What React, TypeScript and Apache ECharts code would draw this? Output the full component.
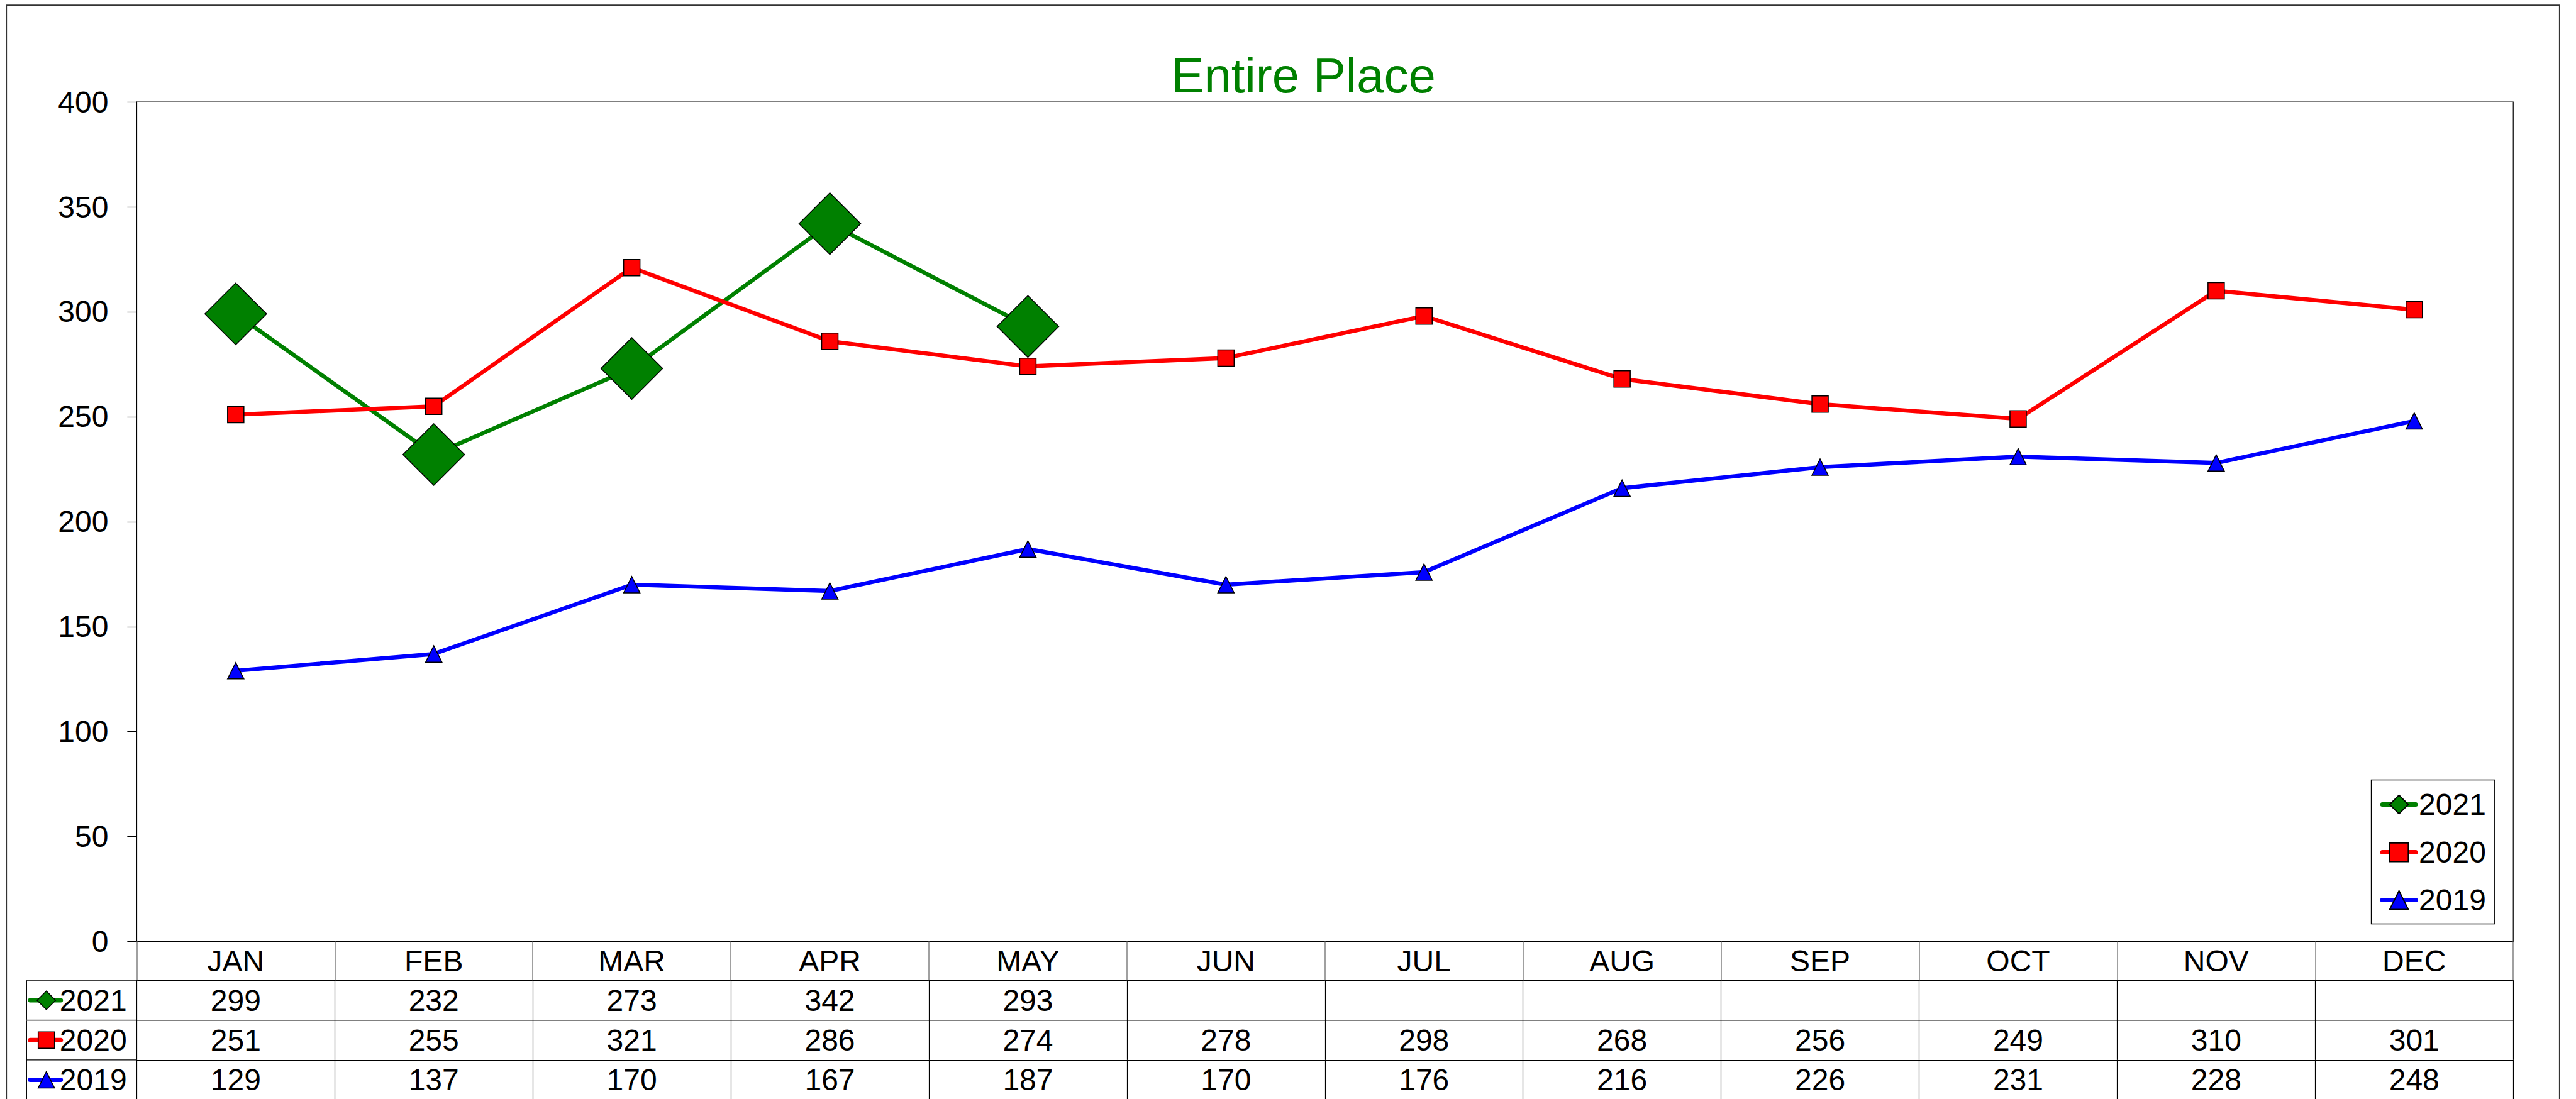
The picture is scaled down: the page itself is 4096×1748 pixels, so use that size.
import React, { useEffect, useRef } from "react";
import * as echarts from "echarts";

const months = ["JAN", "FEB", "MAR", "APR", "MAY", "JUN", "JUL", "AUG", "SEP", "OCT", "NOV", "DEC"];
const y2021 = [299, 232, 273, 342, 293];
const y2020 = [251, 255, 321, 286, 274, 278, 298, 268, 256, 249, 310, 301];
const y2019 = [129, 137, 170, 167, 187, 170, 176, 216, 226, 231, 228, 248];
const seriesNames = ["2021", "2020", "2019"];
const titleText = "Entire Place";
const yMin = 0;
const yMax = 400;
const yStep = 50;

const W = 4096;
const H = 1748;
const S = 0.921;
const FONT = "'Liberation Sans', Arial, sans-serif";
const GREEN = "#008000";
const RED = "#ff0000";
const BLUE = "#0000ff";

export default function App() {
  const ref = useRef<HTMLDivElement>(null);
  useEffect(() => {
    if (!ref.current) return;
    const chart = echarts.init(ref.current, undefined, { renderer: "svg", width: W, height: H });

    const plotL = 236 * S;
    const plotR = 4339 * S;
    const plotT = 176 * S;
    const plotB = 1626 * S;
    const rowLines = [1693 * S, 1762 * S, 1830.5 * S, 1899 * S];
    const tableL = 46 * S;
    const fs = 48;

    const rows = [
      { name: seriesNames[0], vals: y2021, color: GREEN, sym: "diamond" },
      { name: seriesNames[1], vals: y2020, color: RED, sym: "rect" },
      { name: seriesNames[2], vals: y2019, color: BLUE, sym: "triangle" },
    ];

    const rowAxisColors = ["#000", "#808080", "#000"];
    const rowAxisWidths = [1.2, 2, 1.2];

    const extraAxes = rows.map((r, i) => {
      const top = rowLines[i];
      const bottom = rowLines[i + 1];
      return {
        type: "category",
        gridIndex: 0,
        position: "bottom",
        offset: top - plotB,
        data: months,
        boundaryGap: true,
        axisLine: { show: true, lineStyle: { color: rowAxisColors[i], width: rowAxisWidths[i] } },
        axisTick: { show: true, interval: 0, length: bottom - top, lineStyle: { color: "#000", width: 1.2 } },
        axisLabel: {
          show: true,
          interval: 0,
          margin: (bottom - top) / 2,
          verticalAlign: "middle",
          fontSize: fs,
          fontFamily: FONT,
          color: "#000",
          formatter: (_v: string, idx: number) => (r.vals[idx] !== undefined ? String(r.vals[idx]) : ""),
        },
        splitLine: { show: false },
      };
    });

    const legendGraphics: any[] = [];
    rows.forEach((r, i) => {
      const cy = (rowLines[i] + rowLines[i + 1]) / 2;
      const cx = 80 * S;
      legendGraphics.push({
        type: "line",
        shape: { x1: 52 * S, y1: cy, x2: 105 * S, y2: cy },
        style: { stroke: r.color, lineWidth: 7, lineCap: "round" },
      });
      const h = 14.7;
      if (r.sym === "diamond") {
        legendGraphics.push({
          type: "polygon",
          shape: { points: [[cx, cy - h], [cx + h, cy], [cx, cy + h], [cx - h, cy]] },
          style: { fill: r.color, stroke: "#000", lineWidth: 1.5 },
        });
      } else if (r.sym === "rect") {
        legendGraphics.push({
          type: "rect",
          shape: { x: cx - 13, y: cy - 13, width: 26, height: 26 },
          style: { fill: r.color, stroke: "#000", lineWidth: 1.5 },
        });
      } else {
        legendGraphics.push({
          type: "polygon",
          shape: { points: [[cx, cy - 13], [cx + 13, cy + 13], [cx - 13, cy + 13]] },
          style: { fill: r.color, stroke: "#000", lineWidth: 1.5 },
        });
      }
      legendGraphics.push({
        type: "text",
        x: 103 * S,
        y: cy,
        style: {
          text: r.name,
          fill: "#000",
          fontSize: fs,
          fontFamily: FONT,
          align: "left",
          verticalAlign: "middle",
          textAlign: "left",
          textVerticalAlign: "middle",
        },
      });
    });

    const tableLines: any[] = [
      {
        type: "line",
        shape: { x1: tableL, y1: rowLines[0], x2: tableL, y2: H + 20 },
        style: { stroke: "#000", lineWidth: 1.2 },
      },
    ];
    [0, 1, 2].forEach((i) => {
      tableLines.push({
        type: "line",
        shape: { x1: tableL, y1: rowLines[i], x2: plotL, y2: rowLines[i] },
        style: { stroke: rowAxisColors[i], lineWidth: rowAxisWidths[i] },
      });
    });

    const option: any = {
      animation: false,
      backgroundColor: "#fff",
      title: {
        text: titleText,
        left: 2245 * S,
        top: 76,
        textAlign: "center",
        textStyle: { color: GREEN, fontSize: 78, fontWeight: "normal", fontFamily: FONT },
      },
      grid: {
        left: plotL,
        top: plotT,
        width: plotR - plotL,
        height: plotB - plotT,
        show: true,
        borderColor: "#000",
        borderWidth: 1.2,
        containLabel: false,
      },
      legend: {
        orient: "vertical",
        left: 4094 * S,
        top: 1347 * S,
        padding: [15, 14, 14, 14],
        itemWidth: 53,
        itemHeight: 37,
        itemGap: 28,
        borderColor: "#000",
        borderWidth: 1.5,
        backgroundColor: "#fff",
        data: seriesNames,
        textStyle: { fontSize: fs, fontFamily: FONT, color: "#000" },
        lineStyle: { width: 7, cap: "round" },
      },
      xAxis: [
        {
          type: "category",
          gridIndex: 0,
          position: "bottom",
          data: months,
          boundaryGap: true,
          axisLine: { show: true, lineStyle: { color: "#000", width: 1.2 } },
          axisTick: { show: true, interval: 0, length: rowLines[0] - plotB, lineStyle: { color: "#808080", width: 1.5 } },
          axisLabel: {
            show: true,
            interval: 0,
            margin: (rowLines[0] - plotB) / 2,
            verticalAlign: "middle",
            fontSize: fs,
            fontFamily: FONT,
            color: "#000",
          },
          splitLine: { show: false },
        },
        ...extraAxes,
      ],
      yAxis: {
        type: "value",
        min: yMin,
        max: yMax,
        interval: yStep,
        axisLine: { show: true, lineStyle: { color: "#000", width: 1.2 } },
        axisTick: { show: true, length: 15, lineStyle: { color: "#000", width: 1.2 } },
        axisLabel: { margin: 45, fontSize: fs, fontFamily: FONT, color: "#000" },
        splitLine: { show: false },
      },
      series: rows.map((r) => ({
        name: r.name,
        type: "line",
        xAxisIndex: 0,
        yAxisIndex: 0,
        data: r.vals,
        symbol: r.sym,
        symbolSize: r.sym === "diamond" ? 98 : 26,
        showSymbol: true,
        lineStyle: { color: r.color, width: 6.5 },
        itemStyle: { color: r.color, borderColor: "#000", borderWidth: 1.5 },
        emphasis: { disabled: true },
      })),
      graphic: [
        {
          type: "rect",
          shape: { x: 11 * S, y: 9 * S, width: (4419 - 11) * S, height: H + 40 },
          style: { fill: "none", stroke: "#333", lineWidth: 2 },
          z: 100,
        },
        ...tableLines,
        ...legendGraphics,
      ],
    };
    chart.setOption(option);
    return () => chart.dispose();
  }, []);
  return <div ref={ref} style={{ position: "fixed", left: 0, top: 0, width: W, height: H, background: "#fff" }} />;
}
